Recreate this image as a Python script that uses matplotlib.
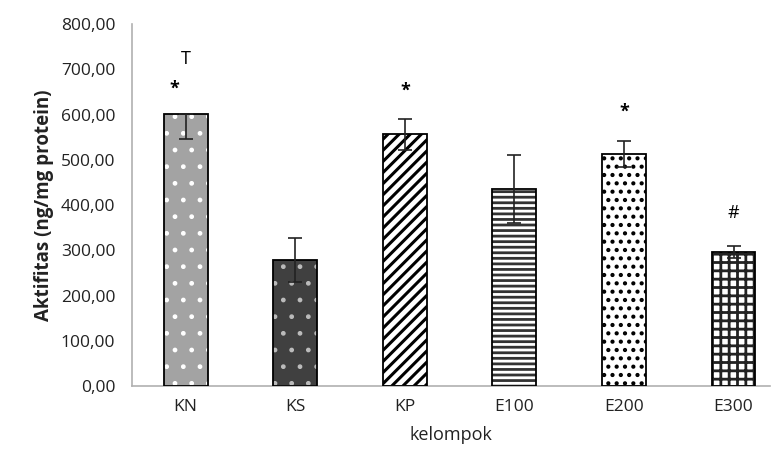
import matplotlib.pyplot as plt
import numpy as np
from matplotlib.ticker import FuncFormatter

plt.rcParams['font.family'] = ['Open Sans', 'DejaVu Sans']

# data
kelompok = ['KN', 'KS', 'KP', 'E100', 'E200', 'E300']
aktifitas = [601, 278, 557, 435, 513, 296]
err_low = [56, 48, 36, 75, 28, 13]
err_up = [0, 50, 33, 75, 28, 13]
tanda = ['*', '', '*', '', '*', '#']
tanda_y = [658, None, 653, None, 606, 383]

faces = ['#a3a3a3', '#404040', 'white', 'white', 'white', 'white']
hatches = ['.', '.', '///', '---', '..', '++']
hcolors = ['white', '#bbbbbb', 'black', '#333333', 'black', '#222222']
hwidths = [1.0, 1.0, 2.2, 2.0, 1.8, 2.0]

fig = plt.figure(figsize=(7.74, 4.67), dpi=100)
ax = fig.add_axes([0.1705, 0.1734, 0.824, 0.7752])

x = np.arange(len(kelompok))
for i in range(len(kelompok)):
    with plt.rc_context({'hatch.linewidth': hwidths[i]}):
        ax.bar(x[i], aktifitas[i], width=0.4, color=faces[i], hatch=hatches[i],
               edgecolor=hcolors[i], linewidth=0, zorder=2)
ax.bar(x, aktifitas, width=0.4, fill=False, edgecolor='black', linewidth=1.3, zorder=3)
ax.errorbar(x, aktifitas, yerr=[err_low, err_up], fmt='none', ecolor='#222222',
            elinewidth=1.2, capsize=5, capthick=1.2, zorder=4)

for i, t in enumerate(tanda):
    if t:
        ax.text(x[i] - (0.1 if i == 0 else 0), tanda_y[i], t, ha='center', va='center',
                fontsize=13, fontweight='bold' if t == '*' else 'normal')
# stray error cap above KN
ax.text(0, 722, 'T', ha='center', va='center', fontsize=13)

ax.set_xlim(-0.49, 5.33)
ax.set_ylim(0, 800)
ax.set_yticks(np.arange(0, 801, 100))
ax.yaxis.set_major_formatter(FuncFormatter(lambda v, p: f'{v:.2f}'.replace('.', ',')))
ax.set_xticks(x)
ax.set_xticklabels(kelompok)
ax.tick_params(length=0, labelsize=12.5, colors='#222222', pad=9)
ax.tick_params(axis='y', pad=12)
for s in ['top', 'right']:
    ax.spines[s].set_visible(False)
for s in ['left', 'bottom']:
    ax.spines[s].set_color('#b0b0b0')
    ax.spines[s].set_linewidth(1.2)

ax.set_xlabel('kelompok', fontsize=13, color='#222222', labelpad=8)
ax.set_ylabel('Aktifitas (ng/mg protein)', fontsize=13.5, fontweight='bold', color='#222222', labelpad=5)

fig.savefig('out.png', dpi=100)
